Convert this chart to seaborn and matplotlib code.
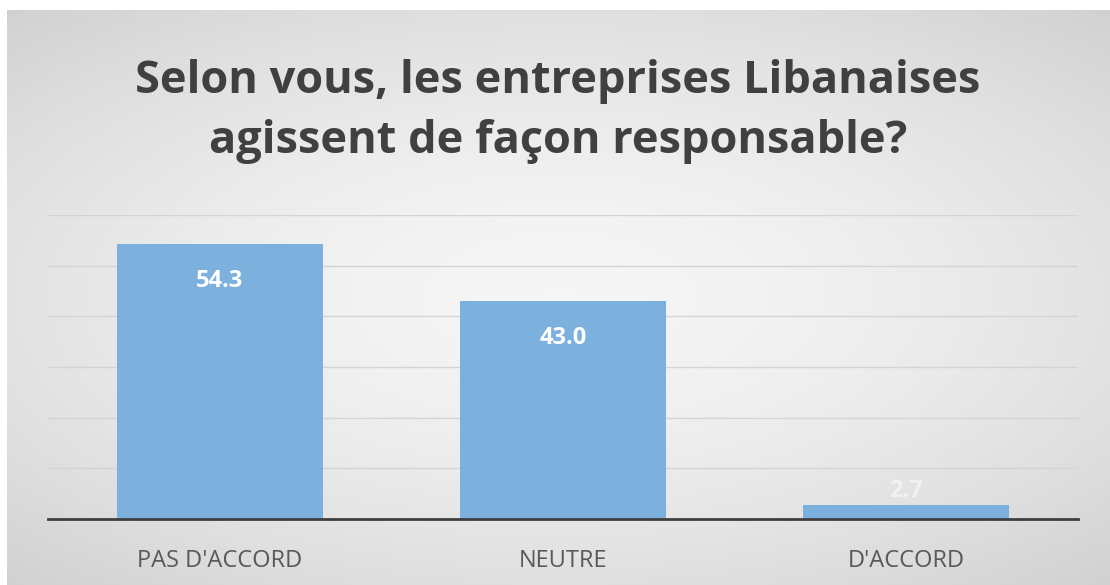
import numpy as np
import pandas as pd
import matplotlib.pyplot as plt
import seaborn as sns

categories = ["PAS D'ACCORD", "NEUTRE", "D'ACCORD"]
values = [54.3, 43.0, 2.7]
title_lines = ["Selon vous, les entreprises Libanaises", "agissent de façon responsable?"]

df = pd.DataFrame({"reponse": categories, "pct": values})

sns.set_style("white")
plt.rcParams["font.family"] = ["Open Sans", "DejaVu Sans"]

W, H = 1110, 585
fig = plt.figure(figsize=(W / 100, H / 100), dpi=100)
fig.patch.set_facecolor("white")

# fond gris dégradé (radial)
bg = fig.add_axes([7 / W, 0, 1 - 7 / W, 1 - 10 / H])
yy, xx = np.mgrid[-1:1:200j, -1:1:400j]
r = np.sqrt((xx * 0.9) ** 2 + (yy * 1.0) ** 2)
grad = 0.965 - 0.09 * np.clip(r, 0, 1.4) ** 1.6
bg.imshow(np.dstack([grad] * 3), aspect="auto", extent=[0, 1, 0, 1], origin="upper")
bg.set_axis_off()

ax = fig.add_axes([48 / W, (H - 519) / H, (1078 - 48) / W, (519 - 215) / H])
ax.patch.set_alpha(0)
sns.barplot(data=df, x="reponse", y="pct", color="#7CB0DD", width=0.6,
            saturation=1, linewidth=0, ax=ax)

ax.set_ylim(0, 60)
ax.set_xlim(-0.5, 2.5)
ax.set_yticks(np.arange(10, 61, 10))
ax.yaxis.grid(True, color="#d4d4d4", linewidth=1)
ax.set_axisbelow(True)
ax.tick_params(axis="y", left=False, labelleft=False)
ax.tick_params(axis="x", bottom=False, pad=18, labelsize=17, labelcolor="#595959")
ax.set_xlabel("")
ax.set_ylabel("")
for s in ["top", "left", "right"]:
    ax.spines[s].set_visible(False)
ax.spines["bottom"].set_color("#3f3f3f")
ax.spines["bottom"].set_linewidth(2)
ax.spines["bottom"].set_zorder(5)

for i, v in enumerate(values):
    if v > 10:
        ax.annotate(f"{v:.1f}", (i, v), xytext=(0, -37), textcoords="offset pixels",
                    ha="center", va="center", color="white", fontsize=17, fontweight="bold")
    else:
        ax.annotate(f"{v:.1f}", (i, v), xytext=(0, 14), textcoords="offset pixels",
                    ha="center", va="center", color="#f2f2f2", fontsize=17, fontweight="bold")

fig.text(558 / W, 1 - 82 / H, title_lines[0], ha="center", va="center",
         fontsize=32.5, fontweight="bold", color="#404040")
fig.text(558 / W, 1 - 142 / H, title_lines[1], ha="center", va="center",
         fontsize=32.5, fontweight="bold", color="#404040")

fig.savefig("out.png", dpi=100)
